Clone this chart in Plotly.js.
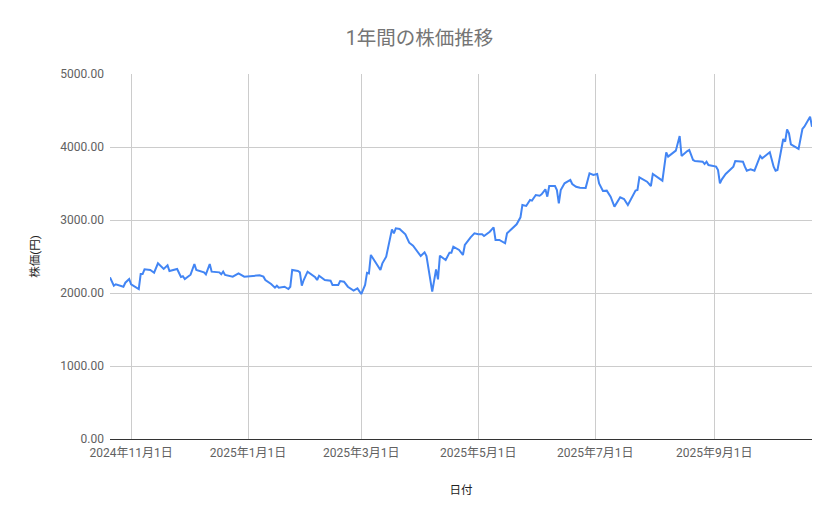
<!DOCTYPE html>
<html>
<head>
<meta charset="utf-8">
<script src="https://cdn.plot.ly/plotly-3.0.1.min.js"></script>
<style>html,body{margin:0;padding:0;background:#fff;}#chart{width:839px;height:519px;}</style>
</head>
<body>
<div id="chart"></div>
<script>
const dates = [
"2024-10-21","2024-10-23","2024-10-24","2024-10-28","2024-10-29","2024-10-31",
"2024-11-01","2024-11-05","2024-11-06","2024-11-07","2024-11-08","2024-11-11","2024-11-13","2024-11-15",
"2024-11-18","2024-11-20","2024-11-21","2024-11-25","2024-11-27","2024-11-28","2024-11-29",
"2024-12-02","2024-12-04","2024-12-05","2024-12-09","2024-12-10","2024-12-12","2024-12-13",
"2024-12-17","2024-12-18","2024-12-19","2024-12-20","2024-12-24","2024-12-27","2024-12-30",
"2025-01-07","2025-01-09","2025-01-10","2025-01-13","2025-01-15","2025-01-16","2025-01-17",
"2025-01-20","2025-01-22","2025-01-23","2025-01-24","2025-01-27","2025-01-28","2025-01-29","2025-01-30",
"2025-02-01","2025-02-05","2025-02-06","2025-02-07","2025-02-10","2025-02-13","2025-02-14",
"2025-02-17","2025-02-18","2025-02-20","2025-02-22","2025-02-25","2025-02-27","2025-03-01",
"2025-03-03","2025-03-04","2025-03-05","2025-03-06","2025-03-11","2025-03-12","2025-03-14",
"2025-03-17","2025-03-18","2025-03-19","2025-03-21","2025-03-24","2025-03-26","2025-03-28",
"2025-04-01","2025-04-03","2025-04-04","2025-04-07","2025-04-09","2025-04-10","2025-04-11",
"2025-04-14","2025-04-16","2025-04-17","2025-04-18","2025-04-21","2025-04-23","2025-04-24",
"2025-04-27","2025-04-29","2025-05-01","2025-05-03","2025-05-04","2025-05-07","2025-05-09",
"2025-05-10","2025-05-12","2025-05-15","2025-05-16","2025-05-19","2025-05-21","2025-05-23",
"2025-05-24","2025-05-26","2025-05-28","2025-05-29","2025-05-31","2025-06-02","2025-06-03",
"2025-06-05","2025-06-06","2025-06-07","2025-06-10","2025-06-11","2025-06-12","2025-06-13",
"2025-06-15","2025-06-18","2025-06-19","2025-06-21","2025-06-23","2025-06-26","2025-06-28",
"2025-06-30","2025-07-02","2025-07-03","2025-07-05","2025-07-07","2025-07-09","2025-07-11",
"2025-07-14","2025-07-16","2025-07-18","2025-07-22","2025-07-23","2025-07-24","2025-07-28",
"2025-07-30","2025-07-31","2025-08-05","2025-08-07","2025-08-08","2025-08-12","2025-08-14",
"2025-08-15","2025-08-18","2025-08-19","2025-08-21","2025-08-22","2025-08-26","2025-08-27",
"2025-08-28","2025-08-29","2025-09-02","2025-09-03","2025-09-04","2025-09-05","2025-09-07",
"2025-09-10","2025-09-11","2025-09-12","2025-09-16","2025-09-17","2025-09-18","2025-09-20",
"2025-09-22","2025-09-25","2025-09-26","2025-09-30","2025-10-02","2025-10-03","2025-10-04",
"2025-10-07","2025-10-08","2025-10-09","2025-10-10","2025-10-11","2025-10-15","2025-10-17",
"2025-10-18","2025-10-21","2025-10-22"
];
const prices = [
2215,2100,2119,2086,2141,2192,
2119,2055,2260,2260,2324,2315,2278,2406,
2329,2379,2301,2329,2219,2229,2192,
2251,2397,2315,2283,2256,2397,2292,
2283,2256,2292,2247,2224,2269,2224,
2242,2224,2178,2123,2073,2100,2073,
2086,2055,2086,2315,2301,2283,2100,2178,
2292,2215,2178,2237,2178,2169,2110,
2110,2164,2155,2086,2032,2064,1986,
2110,2278,2269,2521,2315,2406,2498,
2872,2817,2886,2877,2804,2689,2648,
2507,2557,2507,2018,2324,2187,2511,
2452,2553,2553,2635,2589,2521,2658,
2763,2817,2804,2804,2781,2840,2900,
2726,2726,2681,2817,2900,2941,3037,
3205,3192,3274,3265,3342,3333,3352,
3420,3320,3466,3466,3411,3228,3411,
3502,3548,3493,3456,3443,3440,3639,
3616,3630,3502,3397,3402,3320,3183,
3311,3288,3205,3402,3411,3584,3525,
3466,3630,3539,3927,3868,3950,4151,
3877,3945,3959,3822,3808,3799,3767,
3799,3753,3731,3685,3502,3557,3630,
3717,3731,3808,3799,3731,3676,3694,
3676,3877,3845,3927,3731,3676,3685,
4110,4073,4242,4187,4037,3973,4247,
4278,4416,4278
];
const chartTitle = "1年間の株価推移";
const xTitle = "日付";
const yTitle = "株価(円)";

const trace = {
  x: dates, y: prices, type: "scatter", mode: "lines",
  line: {color: "#4285F4", width: 2},
  hoverinfo: "x+y"
};
const layout = {
  width: 839, height: 519,
  margin: {l: 110, r: 27, t: 74, b: 80},
  paper_bgcolor: "#fff", plot_bgcolor: "#fff",
  font: {family: "Roboto, 'Noto Sans CJK JP', sans-serif", color: "#616161", size: 12},
  title: {text: chartTitle, x: 0.5, xanchor: "center", y: 0.927, yanchor: "middle",
          font: {size: 19.5, color: "#757575", family: "Roboto, 'Noto Sans CJK JP', sans-serif"}},
  showlegend: false,
  xaxis: {
    type: "date",
    range: [dates[0], dates[dates.length-1]],
    tick0: "2024-11-01", dtick: "M2",
    tickformat: "%Y年%-m月%-d日",
    showgrid: true, gridcolor: "#cccccc", gridwidth: 1,
    showline: true, linecolor: "#333333", linewidth: 1,
    ticks: "", zeroline: false,
    ticklabelstandoff: 3,
    tickfont: {size: 12, color: "#616161"},
    title: {text: xTitle, font: {size: 11.5, color: "#222222"}, standoff: 26}
  },
  yaxis: {
    range: [0, 5000], dtick: 1000, tickformat: ".2f",
    showgrid: true, gridcolor: "#cccccc", gridwidth: 1,
    zeroline: false, showline: false, ticks: "",
    ticklabelstandoff: 5,
    tickfont: {size: 12, color: "#616161"},
    title: {text: yTitle, font: {size: 11.5, color: "#222222"}, standoff: 18}
  }
};
Plotly.newPlot("chart", [trace], layout, {displayModeBar: false, staticPlot: true});
</script>
</body>
</html>
